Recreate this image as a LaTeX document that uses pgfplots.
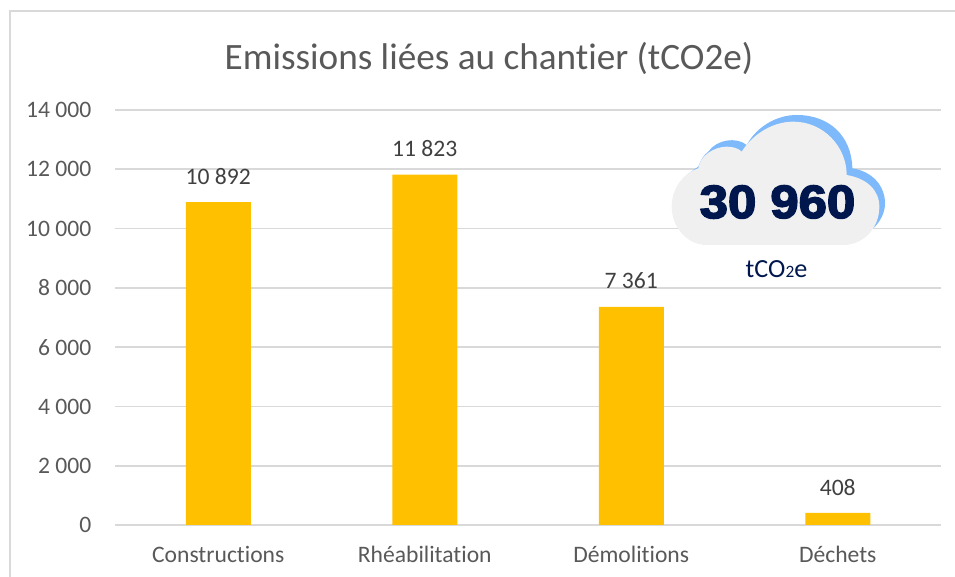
\documentclass[border=0pt]{standalone}
\usepackage{pgfplots}
\pgfplotsset{compat=1.18}
\usepackage{fontspec}
\setmainfont[Ligatures=NoCommon]{Carlito}
\newfontfamily\blk[FakeBold=3.2]{Liberation Sans Bold}
\definecolor{gridc}{HTML}{D9D9D9}
\definecolor{lab}{HTML}{595959}
\definecolor{dlab}{HTML}{404040}
\definecolor{barc}{HTML}{FFC000}
\definecolor{navy}{HTML}{00174D}
\definecolor{cloudb}{HTML}{7DB9FB}
\definecolor{cloudg}{HTML}{F0F0F0}
\newlength{\uu}\setlength{\uu}{0.75pt}
\begin{document}
\begin{tikzpicture}[x=\uu,y=\uu]
\path[use as bounding box] (0,0) rectangle (955,577);
\draw[gridc,line width=1.8\uu] (10,0) -- (10,566) -- (955,566);
\begin{axis}[
  at={(115\uu,52\uu)},anchor=south west,
  scale only axis,width=826\uu,height=415\uu,
  xmin=-0.5,xmax=3.5,ymin=0,ymax=14000,
  ybar,bar width=65\uu,
  axis x line*=bottom,axis y line*=left,
  x axis line style={draw=gridc,line width=1.8\uu,-},
  y axis line style={draw=none},
  major tick length=0pt,
  xtick=data,xticklabels={Constructions,Rhéabilitation,Démolitions,Déchets},
  ytick={0,2000,...,14000},
  scaled y ticks=false,
  ymajorgrids,grid style={draw=gridc,line width=1.8\uu},
  /pgf/number format/.cd,assume math mode=true,1000 sep={\ },
  /pgfplots/.cd,
  tick label style={font=\fontsize{17.7}{19}\selectfont,text=lab},
  xticklabel style={yshift=-17\uu,text height=12pt,text depth=2pt},
  yticklabel style={xshift=-19\uu},
  nodes near coords,
  nodes near coords style={font=\fontsize{17.7}{19}\selectfont,text=dlab,yshift=13\uu},
]
\addplot[fill=barc,draw=none,bar shift=0pt] coordinates {(0,10892) (1,11823) (2,7361) (3,408)};
\end{axis}
\node[text=lab,font=\fontsize{27.9}{30}\selectfont] at (489,519) {Emissions liées au chantier (tCO2e)};
\begin{scope}[shift={(640,487)},x=\uu/3,y=-\uu/3]
\fill[cloudb] (130,265) .. controls (145,250) and (160,240) .. (175,230) .. controls (180,215) and (190,195) .. (205,185)
 .. controls (230,148) and (290,140) .. (320,165) .. controls (350,110) and (410,75) .. (470,75)
 .. controls (570,75) and (635,140) .. (637,235) .. controls (700,245) and (735,290) .. (735,340)
 .. controls (735,370) and (720,395) .. (700,415) -- (300,400) -- cycle;
\fill[cloudg] (200,465) .. controls (140,465) and (95,410) .. (95,350) .. controls (95,295) and (130,250) .. (175,235)
 .. controls (180,195) and (225,170) .. (260,170) .. controls (280,170) and (295,175) .. (305,185)
 .. controls (340,130) and (400,95) .. (460,95) .. controls (550,95) and (620,170) .. (620,255)
 .. controls (680,265) and (718,300) .. (718,350) .. controls (718,415) and (670,465) .. (610,465) -- cycle;
\end{scope}
\node[text=navy,font=\blk\fontsize{35}{38}\selectfont,xscale=1.09] at (777.5,375) {30 960};
\node[text=navy,font=\fontsize{19.6}{21}\selectfont] at (776.5,308) {tCO\raisebox{-0.3pt}{\fontsize{13}{14}\selectfont 2}e};
\end{tikzpicture}
\end{document}
